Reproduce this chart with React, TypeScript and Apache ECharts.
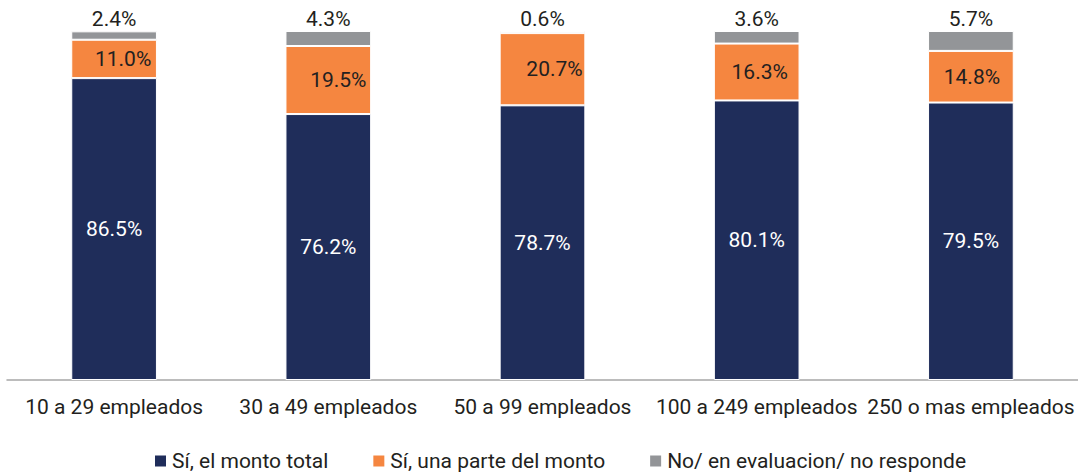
import React, { useEffect, useRef } from "react";
import * as echarts from "echarts";

const categories = ["10 a 29 empleados", "30 a 49 empleados", "50 a 99 empleados", "100 a 249 empleados", "250 o mas empleados"];
const montoTotal = [86.5, 76.2, 78.7, 80.1, 79.5];
const parteMonto = [11.0, 19.5, 20.7, 16.3, 14.8];
const noResponde = [2.4, 4.3, 0.6, 3.6, 5.7];
const seriesNames = ["Sí, el monto total", "Sí, una parte del monto", "No/ en evaluacion/ no responde"];

// horizontal nudges of the orange labels (style only)
const orangeLabelShift = [9, 10, 12, 3, 1];

const FONT = "Roboto";
const FS = 21;
const TXT = "#231f20";

export default function App() {
  const ref = useRef<HTMLDivElement>(null);
  useEffect(() => {
    if (!ref.current) return;
    const chart = echarts.init(ref.current, null, { renderer: "svg" });
    const fmt = (p: any) => Number(p.value).toFixed(1) + "%";
    chart.setOption({
      animation: false,
      textStyle: { fontFamily: FONT },
      grid: { left: 7, right: 0, top: 31, bottom: 95, containLabel: false },
      legend: {
        top: 447,
        left: 148,
        padding: [2, 5, 0, 5],
        itemWidth: 13,
        itemHeight: 13,
        itemGap: 43,
        icon: "rect",
        textStyle: { fontSize: FS, color: TXT, fontFamily: FONT, lineHeight: 24 },
        data: seriesNames,
      },
      xAxis: {
        type: "category",
        data: categories,
        axisLine: { lineStyle: { color: "#a6a6a6", width: 1.5 } },
        axisTick: { show: false },
        axisLabel: { fontSize: FS, color: TXT, margin: 16, fontFamily: FONT, interval: 0 },
      },
      yAxis: { type: "value", min: 0, max: 100, show: false, splitLine: { show: false } },
      series: [
        {
          name: seriesNames[0],
          type: "bar",
          stack: "t",
          barWidth: "40%",
          data: montoTotal,
          itemStyle: { color: "#1f2d5a", borderColor: "#ffffff", borderWidth: 1 },
          label: { show: true, position: "inside", color: "#ffffff", fontSize: FS, formatter: fmt, fontFamily: FONT },
        },
        {
          name: seriesNames[1],
          type: "bar",
          stack: "t",
          data: parteMonto.map((v, i) => ({ value: v, label: { offset: [orangeLabelShift[i], 0] } })),
          itemStyle: { color: "#f58640", borderColor: "#ffffff", borderWidth: 1 },
          label: { show: true, position: "inside", color: TXT, fontSize: FS, formatter: fmt, fontFamily: FONT },
        },
        {
          name: seriesNames[2],
          type: "bar",
          stack: "t",
          data: noResponde,
          itemStyle: { color: "#939598", borderColor: "#ffffff", borderWidth: 1 },
          label: { show: true, position: "top", distance: 2, color: TXT, fontSize: FS, formatter: fmt, fontFamily: FONT },
        },
      ],
    });
    return () => chart.dispose();
  }, []);
  return <div ref={ref} style={{ width: 1078, height: 475, position: "absolute", left: 0, top: 0 }} />;
}
